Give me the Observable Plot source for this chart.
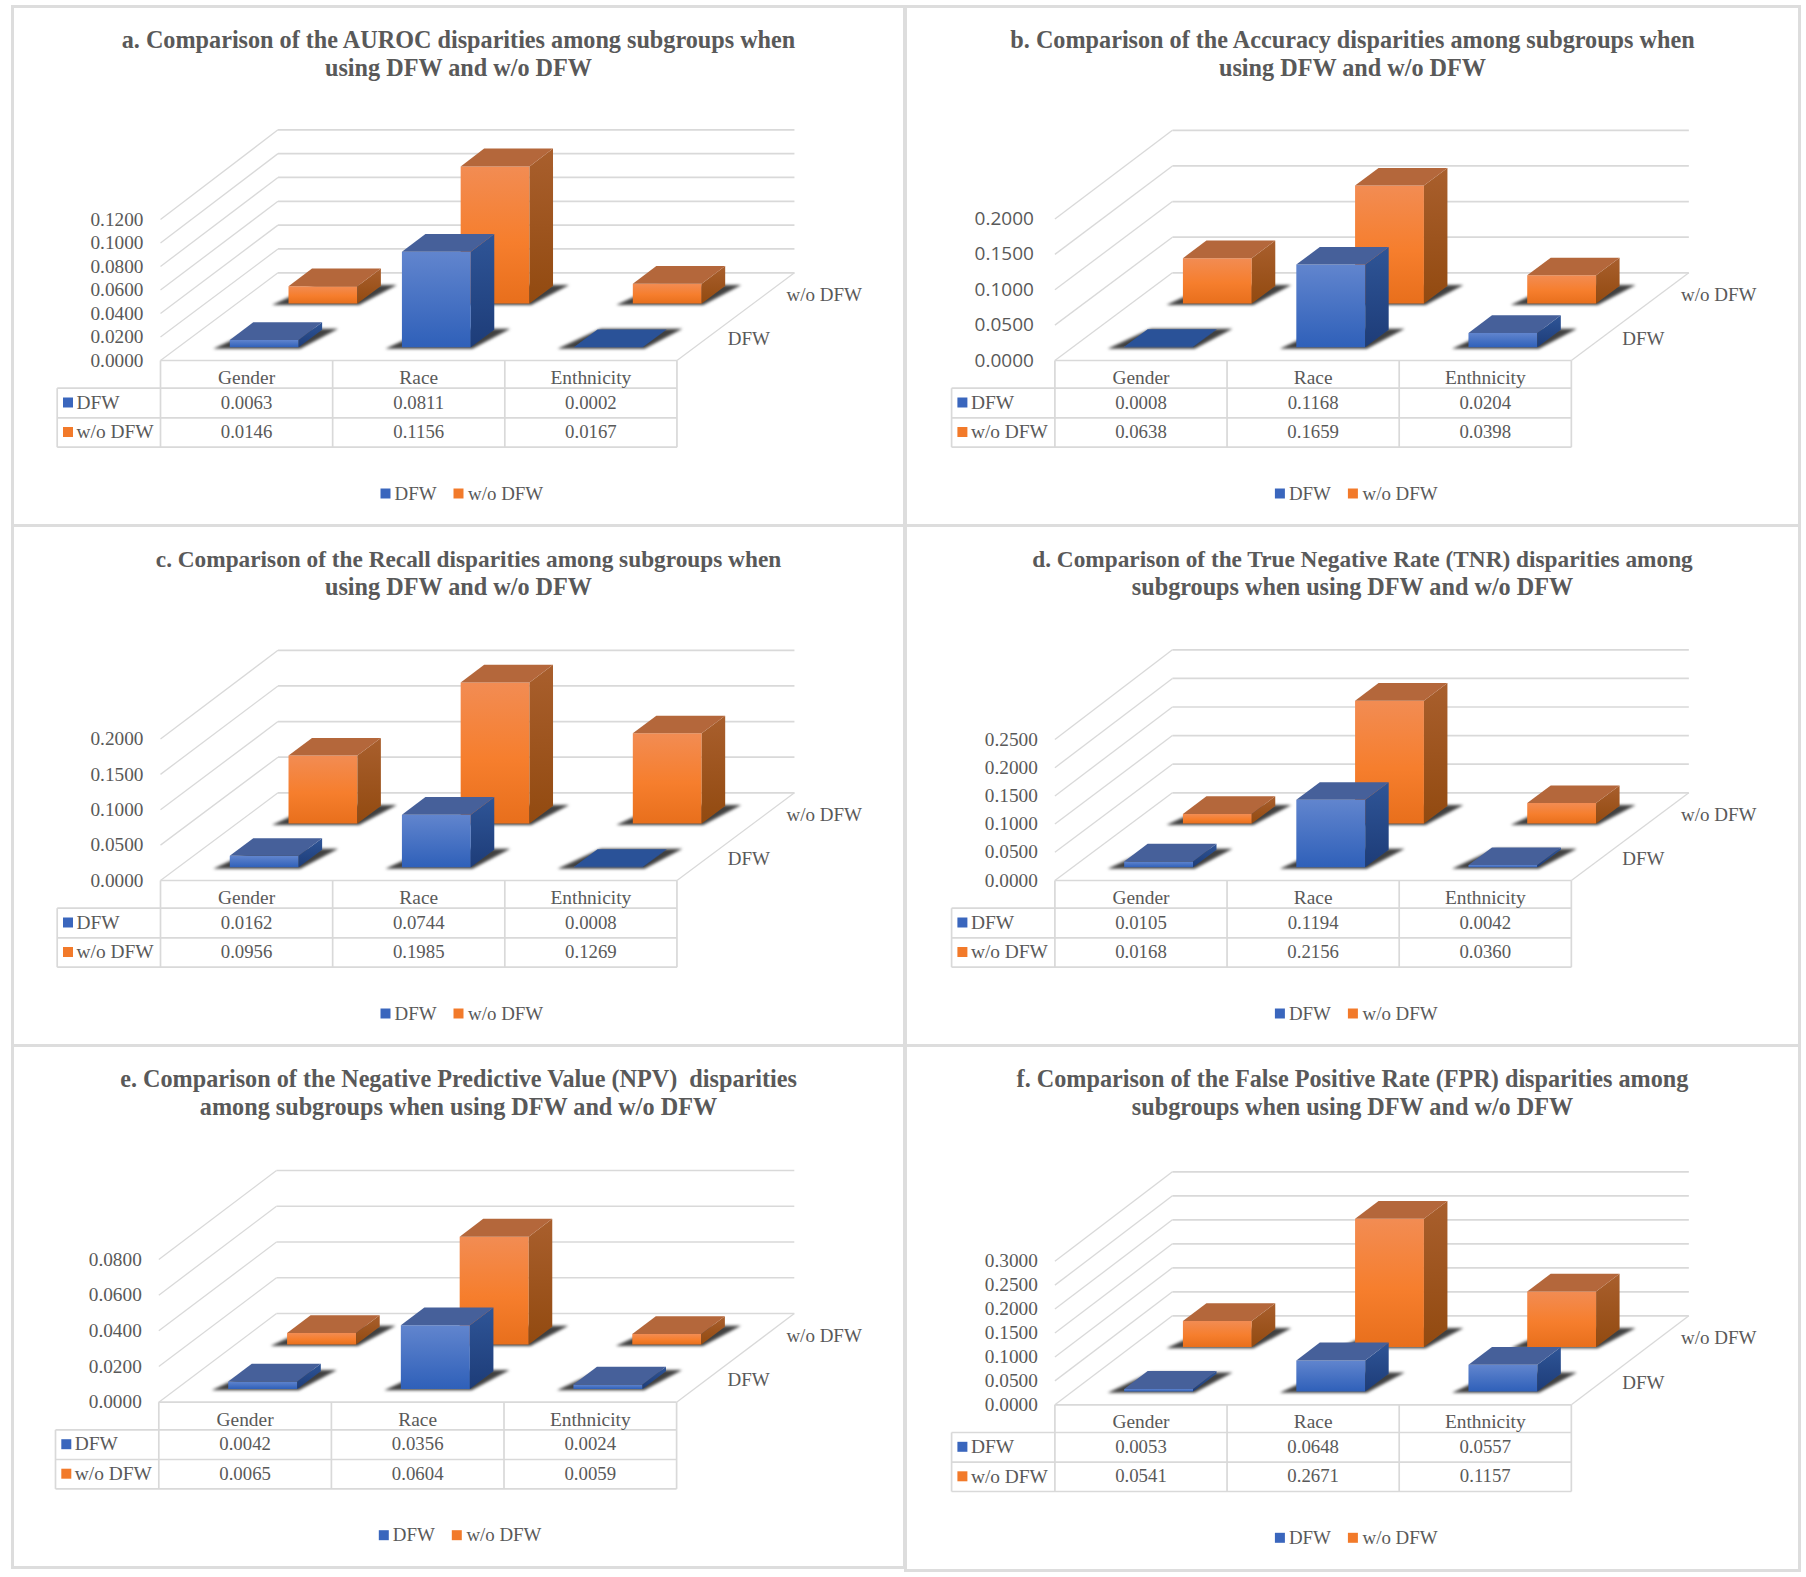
<!DOCTYPE html>
<html>
<head>
<meta charset="utf-8">
<script src="https://cdn.jsdelivr.net/npm/d3@7"></script>
<script src="https://cdn.jsdelivr.net/npm/@observablehq/plot@0.6"></script>
<style>
html,body{margin:0;padding:0;background:#fff;}
#page{position:relative;width:1806px;height:1577px;overflow:hidden;background:#fff;font-family:"Liberation Serif",serif;}
.panel{position:absolute;box-sizing:border-box;border:3px solid #dddddd;}
.panel svg{position:absolute;overflow:visible;}
.ttl{position:absolute;left:0;right:0;text-align:center;font:bold 24.2px/28px "Liberation Serif",serif;color:#595959;white-space:pre;}
.ttl span{display:block;position:relative;}
</style>
</head>
<body>
<svg width="0" height="0" style="position:absolute">
<defs>
<linearGradient id="bf" x1="0" y1="0" x2="0" y2="1"><stop offset="0" stop-color="#6185ce"/><stop offset="1" stop-color="#2f60b9"/></linearGradient>
<linearGradient id="bs" x1="0" y1="0" x2="0" y2="1"><stop offset="0" stop-color="#2f5597"/><stop offset="1" stop-color="#1d3c78"/></linearGradient>
<linearGradient id="of" x1="0" y1="0" x2="0" y2="1"><stop offset="0" stop-color="#f28c53"/><stop offset=".55" stop-color="#f67e2d"/><stop offset="1" stop-color="#e86f1c"/></linearGradient>
<linearGradient id="os" x1="0" y1="0" x2="0" y2="1"><stop offset="0" stop-color="#a95f2d"/><stop offset="1" stop-color="#924a10"/></linearGradient>
</defs>
</svg>
<div id="page"></div>
<script>
const categories = ["Gender", "Race", "Enthnicity"];
const seriesNames = ["DFW", "w/o DFW"];

const aurocDFW = [0.0063, 0.0811, 0.0002];
const aurocNo = [0.0146, 0.1156, 0.0167];
const accuracyDFW = [0.0008, 0.1168, 0.0204];
const accuracyNo = [0.0638, 0.1659, 0.0398];
const recallDFW = [0.0162, 0.0744, 0.0008];
const recallNo = [0.0956, 0.1985, 0.1269];
const tnrDFW = [0.0105, 0.1194, 0.0042];
const tnrNo = [0.0168, 0.2156, 0.0360];
const npvDFW = [0.0042, 0.0356, 0.0024];
const npvNo = [0.0065, 0.0604, 0.0059];
const fprDFW = [0.0053, 0.0648, 0.0557];
const fprNo = [0.0541, 0.2671, 0.1157];

const ticksA = [0, 0.02, 0.04, 0.06, 0.08, 0.1, 0.12];
const ticksB = [0, 0.05, 0.1, 0.15, 0.2];
const ticksD = [0, 0.05, 0.1, 0.15, 0.2, 0.25];
const ticksE = [0, 0.02, 0.04, 0.06, 0.08];
const ticksF = [0, 0.05, 0.1, 0.15, 0.2, 0.25, 0.3];

const titleA = ["a. Comparison of the AUROC disparities among subgroups when", "using DFW and w/o DFW"];
const titleB = ["b. Comparison of the Accuracy disparities among subgroups when", "using DFW and w/o DFW"];
const titleC = ["c. Comparison of the Recall disparities among subgroups when", "using DFW and w/o DFW"];
const titleD = ["d. Comparison of the True Negative Rate (TNR) disparities among", "subgroups when using DFW and w/o DFW"];
const titleE = ["e. Comparison of the Negative Predictive Value (NPV)  disparities", "among subgroups when using DFW and w/o DFW"];
const titleF = ["f. Comparison of the False Positive Rate (FPR) disparities among", "subgroups when using DFW and w/o DFW"];

// layout of each panel (box + front-left floor corner of the 3D plot, in page pixels)
const panels = [
  {title: titleA, a: aurocDFW, b: aurocNo, ticks: ticksA, box: [11, 5, 895, 522], cx: 160, cy: 360, colW: 172.15, depthX: 117.5, depthY: 87.7, wallH: 141, backH: 143, pad: 17},
  {title: titleB, a: accuracyDFW, b: accuracyNo, ticks: ticksB, box: [904, 5, 897, 522], cx: 1054.4, cy: 360, colW: 172.15, depthX: 117.5, depthY: 87.7, wallH: 141.5, backH: 142.5, pad: 21, tickFont: "'Open Sans', sans-serif", tickSize: 19},
  {title: titleC, a: recallDFW, b: recallNo, ticks: ticksB, box: [11, 524, 895, 523], cx: 160, cy: 880, colW: 172.15, depthX: 117.5, depthY: 87.7, wallH: 141.5, backH: 142.5, pad: 17, line1: {size: 23.3, shift: 10}},
  {title: titleD, a: tnrDFW, b: tnrNo, ticks: ticksD, box: [904, 524, 897, 523], cx: 1054.4, cy: 880, colW: 172.15, depthX: 117.5, depthY: 87.7, wallH: 141, backH: 143, pad: 17, line1: {size: 23.3, shift: 10}},
  {title: titleE, a: npvDFW, b: npvNo, ticks: ticksE, box: [11, 1044, 895, 524.5], cx: 158.3, cy: 1401.7, colW: 172.6, depthX: 117.7, depthY: 88.7, wallH: 142.7, backH: 143, pad: 17},
  {title: titleF, a: fprDFW, b: fprNo, ticks: ticksF, box: [904, 1044, 897, 527.5], cx: 1054.4, cy: 1404.3, colW: 172.15, depthX: 117.5, depthY: 89, wallH: 143.6, backH: 144, pad: 17}
];

const BAR_U = 0.2, BAR_D = 0.1;

function drawPanel(p) {
  const [L, T, W, H] = p.box;
  const inner = 3; // border
  const page = document.getElementById("page");
  const div = document.createElement("div");
  div.className = "panel";
  Object.assign(div.style, {left: L + "px", top: T + "px", width: W + "px", height: H + "px"});
  const ttl = document.createElement("div");
  ttl.className = "ttl";
  ttl.style.top = "18px";
  p.title.forEach((line, i) => {
    const s = document.createElement("span");
    s.textContent = line;
    if (i === 0 && p.line1) {
      s.style.fontSize = p.line1.size + "px";
      s.style.left = p.line1.shift + "px";
    }
    ttl.appendChild(s);
  });
  div.appendChild(ttl);

  const vmax = p.ticks[p.ticks.length - 1];
  const pxPerV = p.wallH / vmax;
  const grow = p.backH / p.wallH - 1;     // the back wall is very slightly taller than the front edge
  const kx = p.depthX / p.colW;           // category units per unit of depth
  const ky = p.depthY / pxPerV;           // value units per unit of depth
  const PX = (u, d) => u + d * kx;
  const PY = (v, d) => v * (1 + d * grow) + d * ky;
  const U = px => px / p.colW;            // pixels along x → category units
  const V = px => -px / pxPerV;           // pixels below the floor → value units

  // polygons of the 3D bars
  const faces = {front: [], side: [], top: [], shadow: []};
  const poly = (arr, id, fam, pts, extra) => pts.forEach(([u, d, v]) => arr.push({id, fam, x: PX(u, d), y: PY(v, d), ...extra}));
  const addBar = (fam, val, i, dc) => {
    const u0 = i + 0.5 - BAR_U, u1 = i + 0.5 + BAR_U, d0 = dc - BAR_D, d1 = dc + BAR_D;
    const id = fam + i;
    poly(faces.shadow, id, fam, [[u0 - 0.085, d0 - 0.016, 0], [u1 + 0.02, d0 - 0.016, 0], [u1 + 0.085, d1 + 0.012, 0], [u0 + 0.01, d1 + 0.012, 0]]);
    poly(faces.front, id, fam, [[u0, d0, 0], [u1, d0, 0], [u1, d0, val], [u0, d0, val]]);
    poly(faces.side, id, fam, [[u1, d0, 0], [u1, d1, 0], [u1, d1, val], [u1, d0, val]]);
    const flat = val * pxPerV < 1;
    poly(faces.top, id, fam, [[u0, d0, val], [u1, d0, val], [u1, d1, val], [u0, d1, val]], {flat});
  };
  // back series first so the front series overlaps it
  p.b.forEach((v, i) => addBar("o", v, i, 0.75));
  p.a.forEach((v, i) => addBar("b", v, i, 0.25));

  const face = (name, fam, fill) => Plot.line(faces[name].filter(d => d.fam === fam), {x: "x", y: "y", z: "id", fill, stroke: "none", curve: "linear-closed"});
  const faceSet = fam => [
    Plot.line(faces.shadow.filter(d => d.fam === fam), {x: "x", y: "y", z: "id", fill: "#404040", stroke: "none", curve: "linear-closed", imageFilter: "blur(1.6px)"}),
    face("front", fam, fam === "b" ? "url(#bf)" : "url(#of)"),
    face("side", fam, fam === "b" ? "url(#bs)" : "url(#os)"),
    Plot.line(faces.top.filter(d => d.fam === fam && !d.flat), {x: "x", y: "y", z: "id", fill: fam === "b" ? "#46609a" : "#b4673b", stroke: "none", curve: "linear-closed"}),
    Plot.line(faces.top.filter(d => d.fam === fam && d.flat), {x: "x", y: "y", z: "id", fill: "#2a5298", stroke: "none", curve: "linear-closed"})
  ];

  const rowY = [V(17.3), V(42), V(71.5)];          // text centres: header, DFW, w/o DFW
  const rowLines = [V(0), V(27.7), V(57.3), V(86.7)];
  const keyX = U(-103.3);
  const cols = categories.map((c, i) => i);
  const gridC = "#d9d9d9", tc = "#595959";
  const numFs = 18.8, wordFs = 19.4;
  const fmt = d3.format(".4f");

  const mL = p.cx - L - inner, mB = H - inner * 2 - (p.cy - T - inner);
  const svgW = W - inner * 2, svgH = H - inner * 2;
  const plotW = (3 + kx) * p.colW;
  const plotH = p.backH + p.depthY;

  const svg = Plot.plot({
    width: svgW, height: svgH,
    marginLeft: mL, marginRight: svgW - mL - plotW, marginBottom: mB, marginTop: svgH - mB - plotH,
    x: {domain: [0, 3 + kx], axis: null},
    y: {domain: [0, PY(vmax, 1)], axis: null},
    style: {background: "transparent", color: tc, fontFamily: "'Liberation Serif', serif", fontSize: "19px", overflow: "visible"},
    marks: [
      // value axis, on the front-left edge of the side wall
      Plot.axisY(p.ticks, {anchor: "left", tickSize: 0, tickPadding: p.pad, tickFormat: fmt, fontSize: p.tickSize || 19.3, fontFamily: p.tickFont || "'Liberation Serif', serif", label: null, fill: tc}),
      // side wall grid + back wall grid
      Plot.link(p.ticks, {x1: 0, y1: d => d, x2: kx, y2: d => PY(d, 1), stroke: gridC, strokeWidth: 1.3}),
      Plot.link(p.ticks, {x1: kx, y1: d => PY(d, 1), x2: 3 + kx, y2: d => PY(d, 1), stroke: gridC, strokeWidth: 1.7}),
      // right edge of the floor
      Plot.link([0], {x1: 3, y1: 0, x2: 3 + kx, y2: PY(0, 1), stroke: gridC, strokeWidth: 1.3}),
      // bars
      ...faceSet("o"),
      ...faceSet("b"),
      // series labels on the depth axis
      Plot.text(seriesNames, {x: (d, i) => PX(3, i === 0 ? 0.25 : 0.75), y: (d, i) => PY(0, i === 0 ? 0.25 : 0.75), text: d => d, dx: 21.5, textAnchor: "start", fontSize: 19, fill: tc}),
      // data table
      Plot.link(rowLines, {x1: (d, i) => (i === 0 ? 0 : keyX), x2: 3, y1: d => d, y2: d => d, stroke: gridC, strokeWidth: 1.7}),
      Plot.link(cols.concat(3), {x1: d => d, x2: d => d, y1: rowLines[0], y2: rowLines[3], stroke: gridC, strokeWidth: 1.7}),
      Plot.link([keyX], {x1: d => d, x2: d => d, y1: rowLines[1], y2: rowLines[3], stroke: gridC, strokeWidth: 1.7}),
      Plot.text(categories, {x: (d, i) => i + 0.5, y: rowY[0], text: d => d, fontSize: wordFs, fill: tc}),
      Plot.text(p.a, {x: (d, i) => i + 0.5, y: rowY[1], text: fmt, fontSize: numFs, fill: tc}),
      Plot.text(p.b, {x: (d, i) => i + 0.5, y: rowY[2], text: fmt, fontSize: numFs, fill: tc}),
      Plot.dot(seriesNames, {x: U(-92.5), y: (d, i) => rowY[i + 1], symbol: "square", r: 5.64, fill: (d, i) => i === 0 ? "#3a66bd" : "#f27a2a", stroke: "none"}),
      Plot.text(seriesNames, {x: U(-84), y: (d, i) => rowY[i + 1], text: d => d, textAnchor: "start", fontSize: wordFs, fill: tc}),
      // legend under the table
      Plot.dot(seriesNames, {x: (d, i) => U(i === 0 ? 225 : 298), y: V(133), symbol: "square", r: 5.64, fill: (d, i) => i === 0 ? "#3a66bd" : "#f27a2a", stroke: "none"}),
      Plot.text(seriesNames, {x: (d, i) => U(i === 0 ? 234 : 307.6), y: V(133), text: d => d, textAnchor: "start", fontSize: 18.9, fill: tc})
    ]
  });
  svg.style.left = "0";
  svg.style.top = "0";
  div.appendChild(svg);
  page.appendChild(div);
}
panels.forEach(drawPanel);
</script>
</body>
</html>
